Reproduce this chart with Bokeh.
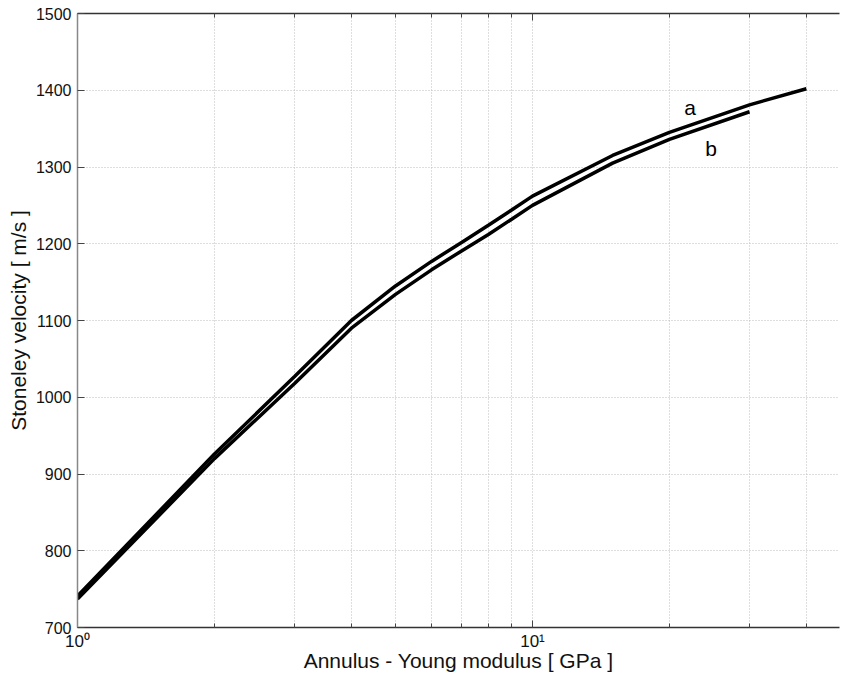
from bokeh.plotting import figure
from bokeh.models import FixedTicker, LogAxis, Label
from bokeh.embed import file_html
from bokeh.resources import INLINE

# --- data ---
modulus_a = [1, 2, 3, 4, 5, 6, 7, 8, 9, 10, 15, 20, 30, 40]
velocity_a = [741, 926, 1027, 1100, 1145, 1177, 1202, 1224, 1244, 1262, 1315, 1345, 1381, 1402]
modulus_b = [1, 2, 3, 4, 5, 6, 7, 8, 9, 10, 15, 20, 30]
velocity_b = [737, 920, 1018, 1090, 1134, 1166, 1191, 1212, 1232, 1250, 1305, 1336, 1372]

x_major = [1, 10]
x_minor = [2, 3, 4, 5, 6, 7, 8, 9, 20, 30, 40]
x_labels = {1: "10⁰", 10: "10¹"}
y_ticks = [700, 800, 900, 1000, 1100, 1200, 1300, 1400, 1500]
curve_names = ["a", "b"]
label_x = [22.2, 24.7]
label_y = [1377, 1324]

FONT = "Liberation Sans"

p = figure(width=840, height=683, x_axis_type="log",
           x_range=(1, 47.3), y_range=(700, 1500),
           output_backend="svg", toolbar_location=None,
           min_border_left=77, min_border_right=1, min_border_top=13, min_border_bottom=56,
           outline_line_color=None, background_fill_color="white")

p.line(modulus_a, velocity_a, line_color="black", line_width=3.5)
p.line(modulus_b, velocity_b, line_color="black", line_width=3.5)

for name, lx, ly in zip(curve_names, label_x, label_y):
    p.add_layout(Label(x=lx, y=ly, text=name, text_font=FONT, text_font_size="21px",
                       text_color="black", text_align="center", text_baseline="middle"))

xt = FixedTicker(ticks=x_major, minor_ticks=x_minor)
yt = FixedTicker(ticks=y_ticks, minor_ticks=[])

xa = p.xaxis[0]
xa.ticker = xt
xa.major_label_overrides = x_labels
xa.axis_label = "Annulus - Young modulus [ GPa ]"
ya = p.yaxis[0]
ya.ticker = yt
ya.axis_label = "Stoneley velocity [ m/s ]"

for ax in (xa, ya):
    ax.axis_label_text_font = FONT
    ax.axis_label_text_font_size = "21px"
    ax.axis_label_text_font_style = "normal"
    ax.axis_label_text_color = "#111111"
    ax.major_label_text_font = FONT
    ax.major_label_text_font_size = "16px"
    ax.major_label_text_color = "#111111"
    ax.major_tick_in = 7
    ax.major_tick_out = 0
    ax.minor_tick_in = 4
    ax.minor_tick_out = 0
    ax.axis_line_width = 1.5
    ax.major_tick_line_color = "#444444"
    ax.minor_tick_line_color = "#444444"
ya.axis_line_color = "#888888"
xa.axis_line_color = "#333333"
xa.major_label_text_font_size = "17px"
xa.major_label_standoff = 4
xa.axis_label_standoff = -5
ya.major_label_standoff = 6
ya.axis_label_standoff = 3

top = LogAxis(ticker=xt, major_label_text_font_size="0px", major_tick_in=7, major_tick_out=0,
              minor_tick_in=4, minor_tick_out=0, axis_line_color="#333333", axis_line_width=1.5,
              major_label_standoff=0,
              major_tick_line_color="#444444", minor_tick_line_color="#444444")
top.major_label_overrides = {1: "", 10: ""}
p.add_layout(top, "above")

p.xgrid.ticker = xt
p.ygrid.ticker = yt
for g in (p.xgrid[0], p.ygrid[0]):
    g.grid_line_color = "#bdbdbd"
    g.grid_line_dash = "1 2"
    g.grid_line_width = 1
p.xgrid[0].minor_grid_line_color = "#bdbdbd"
p.xgrid[0].minor_grid_line_dash = "1 2"

open("out.html", "w").write(file_html(p, INLINE))
